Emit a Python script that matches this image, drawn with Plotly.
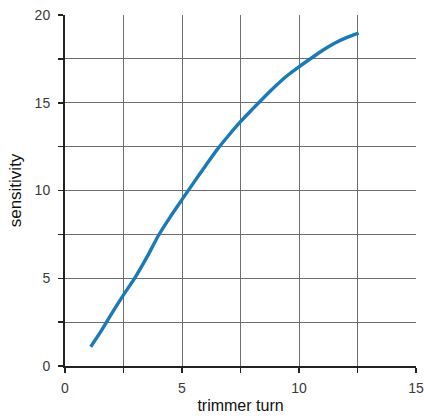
import plotly.graph_objects as go

turns = [1.1, 1.5, 2.0, 2.5, 3.0, 3.5, 4.0, 4.5, 5.0, 5.5, 6.0, 6.5, 7.0, 7.5,
         8.0, 8.5, 9.0, 9.5, 10.0, 10.5, 11.0, 11.5, 12.0, 12.55]
sensitivity = [1.1, 1.9, 3.0, 4.05, 5.05, 6.2, 7.45, 8.5, 9.48, 10.45, 11.4, 12.33,
               13.15, 13.92, 14.62, 15.3, 15.95, 16.55, 17.05, 17.52, 17.98, 18.38,
               18.7, 18.97]

x_ticks = [0, 5, 10, 15]
y_ticks = [0, 5, 10, 15, 20]

FONT = "Liberation Sans, Arial, sans-serif"

fig = go.Figure()
fig.add_trace(go.Scatter(
    x=turns, y=sensitivity, mode="lines",
    line=dict(color="#1a79b7", width=3.4, shape="spline", smoothing=0.7),
    hoverinfo="skip", showlegend=False,
))

grid = "#6e6e6e"
axis_common = dict(
    automargin=False,
    showline=True, linecolor="#222222", linewidth=2,
    showgrid=True, gridcolor=grid, gridwidth=1,
    zeroline=False, ticks="outside", ticklen=5, tickwidth=1.5, tickcolor="#222222",
    tickfont=dict(family=FONT, size=14, color="#3a3a3a"),
    minor=dict(dtick=2.5, ticks="outside", ticklen=5, tickwidth=1.5, tickcolor="#222222",
               showgrid=True, gridcolor=grid, gridwidth=1),
)

fig.update_xaxes(range=[0, 15], tickvals=x_ticks, ticktext=[str(v) for v in x_ticks],
                 ticklabelstandoff=3,
                 title=dict(text="trimmer turn", standoff=5,
                            font=dict(family=FONT, size=16, color="#111111")),
                 **axis_common)
fig.update_yaxes(range=[0, 20], tickvals=y_ticks, ticktext=[str(v) for v in y_ticks],
                 ticklabelstandoff=5,
                 title=dict(text="sensitivity", standoff=9,
                            font=dict(family=FONT, size=17, color="#111111")),
                 **axis_common)

fig.update_layout(
    width=424, height=416,
    margin=dict(l=65, r=8, t=15, b=50),
    plot_bgcolor="white", paper_bgcolor="white",
)

fig.write_html("out.html", config={"displayModeBar": False, "staticPlot": True},
               post_script="document.body.style.margin='0';")
